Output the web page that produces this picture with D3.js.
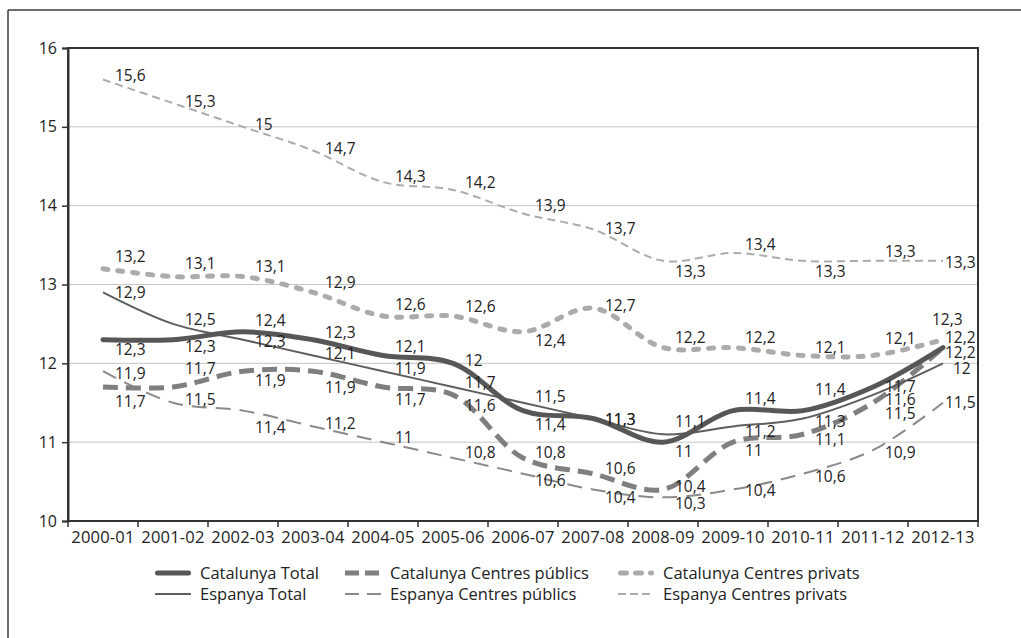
<!DOCTYPE html>
<html>
<head>
<meta charset="utf-8">
<script src="https://cdn.jsdelivr.net/npm/d3@7"></script>
<style>
  html, body { margin: 0; padding: 0; background: #fff; }
  svg { display: block; font-family: "Open Sans", "DejaVu Sans", sans-serif; }
</style>
</head>
<body>
<svg id="chart" width="1021" height="638"></svg>
<script>
// ---------- DATA ----------
const categories = ["2000-01","2001-02","2002-03","2003-04","2004-05","2005-06","2006-07","2007-08","2008-09","2009-10","2010-11","2011-12","2012-13"];
const yTicks = [10, 11, 12, 13, 14, 15, 16];

const catalunyaTotal   = [12.3, 12.3, 12.4, 12.3, 12.1, 12.0, 11.4, 11.3, 11.0, 11.4, 11.4, 11.7, 12.2];
const catalunyaPublics = [11.7, 11.7, 11.9, 11.9, 11.7, 11.6, 10.8, 10.6, 10.4, 11.0, 11.1, 11.5, 12.2];
const catalunyaPrivats = [13.2, 13.1, 13.1, 12.9, 12.6, 12.6, 12.4, 12.7, 12.2, 12.2, 12.1, 12.1, 12.3];
const espanyaTotal     = [12.9, 12.5, 12.3, 12.1, 11.9, 11.7, 11.5, 11.3, 11.1, 11.2, 11.3, 11.6, 12.0];
const espanyaPublics   = [11.9, 11.5, 11.4, 11.2, 11.0, 10.8, 10.6, 10.4, 10.3, 10.4, 10.6, 10.9, 11.5];
const espanyaPrivats   = [15.6, 15.3, 15.0, 14.7, 14.3, 14.2, 13.9, 13.7, 13.3, 13.4, 13.3, 13.3, 13.3];

const seriesNames = ["Catalunya Total","Catalunya Centres públics","Catalunya Centres privats","Espanya Total","Espanya Centres públics","Espanya Centres privats"];

// ---------- STYLES (label vertical offsets, px) ----------
const labelDy = {
  "Catalunya Total":           [10, 7, -11, -7, -9, -3, 14, 1, 9, -12, -21, 0, 5],
  "Catalunya Centres públics": [15, -18, 9, 16, 13, 11, -5, -5, -3, 8, 5, 11, -10],
  "Catalunya Centres privats": [-12, -13, -10, -10, -11, -9, 9, -3, -10, -10, -8, -17, -20],
  "Espanya Total":             [0, -4, 2, -2, -3, -4, -6, 1, -13, 5, 3, 5, 5],
  "Espanya Centres públics":   [2, -3, 17, -3, -5, -5, 7, 8, 6, 1, 3, 3, 0],
  "Espanya Centres privats":   [-4, -2, -2, -2, -5, -7, -8, -1, 11, -8, 11, -9, 2]
};
const labelDxLast = { // left-edge offset of last label
  "Catalunya Total": 2, "Catalunya Centres públics": 2, "Catalunya Centres privats": -11,
  "Espanya Total": 10, "Espanya Centres públics": 2, "Espanya Centres privats": 2
};

const styles = {
  "Catalunya Total":           { color: "#575757", width: 5,   dash: null,    cap: "round" },
  "Catalunya Centres públics": { color: "#7f7f7f", width: 5,   dash: "15,8",  cap: "butt" },
  "Catalunya Centres privats": { color: "#ababab", width: 5,   dash: "5,10",  cap: "round" },
  "Espanya Total":             { color: "#5e5e5e", width: 2,   dash: null,    cap: "butt" },
  "Espanya Centres públics":   { color: "#8a8a8a", width: 2,   dash: "15,9",  cap: "butt" },
  "Espanya Centres privats":   { color: "#ababab", width: 2,   dash: "8,5",   cap: "butt" }
};

const seriesValues = {
  "Catalunya Total": catalunyaTotal,
  "Catalunya Centres públics": catalunyaPublics,
  "Catalunya Centres privats": catalunyaPrivats,
  "Espanya Total": espanyaTotal,
  "Espanya Centres públics": espanyaPublics,
  "Espanya Centres privats": espanyaPrivats
};

// ---------- LAYOUT ----------
const svg = d3.select("#chart");
const plot = { left: 68, right: 978, top: 48, bottom: 521 };

const x = d3.scaleBand().domain(categories).range([plot.left, plot.right]).paddingInner(0).paddingOuter(0);
const xc = d => x(d) + x.bandwidth() / 2;
const y = d3.scaleLinear().domain([10, 16]).range([plot.bottom, plot.top]);

// outer frame (top + left only)
svg.append("line").attr("x1", 8).attr("x2", 1021).attr("y1", 10).attr("y2", 10)
  .attr("stroke", "#3a3a3a").attr("stroke-width", 1.5);
svg.append("line").attr("x1", 8).attr("x2", 8).attr("y1", 10).attr("y2", 638)
  .attr("stroke", "#3a3a3a").attr("stroke-width", 1.5);

// gridlines
svg.append("g").selectAll("line").data(yTicks.filter(t => t > 10 && t < 16)).join("line")
  .attr("x1", plot.left).attr("x2", plot.right)
  .attr("y1", d => y(d)).attr("y2", d => y(d))
  .attr("stroke", "#c4c4c4").attr("stroke-width", 1);

// plot border
svg.append("rect").attr("x", plot.left).attr("y", plot.top)
  .attr("width", plot.right - plot.left).attr("height", plot.bottom - plot.top)
  .attr("fill", "none").attr("stroke", "#333").attr("stroke-width", 2);

// axes
const yAxis = d3.axisLeft(y).tickValues(yTicks).tickSize(6).tickPadding(5).tickFormat(d3.format("d"));
const gy = svg.append("g").attr("transform", `translate(${plot.left},0)`).call(yAxis);
gy.select(".domain").attr("stroke", "#333").attr("stroke-width", 2);
gy.selectAll(".tick line").attr("stroke", "#333").attr("stroke-width", 1.5);
gy.selectAll(".tick text").attr("font-size", 16).attr("fill", "#222")
  .attr("font-family", "'Open Sans', sans-serif");

const xBounds = d3.range(categories.length + 1).map(i => plot.left + i * x.bandwidth());
const gx = svg.append("g");
gx.selectAll("line").data(xBounds).join("line")
  .attr("x1", d => d).attr("x2", d => d)
  .attr("y1", plot.bottom).attr("y2", plot.bottom + 6)
  .attr("stroke", "#333").attr("stroke-width", 1.5);
gx.selectAll("text").data(categories).join("text")
  .attr("x", d => xc(d)).attr("y", plot.bottom + 22)
  .attr("text-anchor", "middle").attr("font-size", 16.5).attr("letter-spacing", 0.2)
  .attr("fill", "#222").text(d => d);

// lines
const line = d3.line()
  .x((d, i) => xc(categories[i]))
  .y(d => y(d))
  .curve(d3.curveCatmullRom.alpha(0.5));

const drawOrder = ["Espanya Centres privats", "Catalunya Centres privats", "Espanya Centres públics", "Catalunya Centres públics", "Espanya Total", "Catalunya Total"];
drawOrder.forEach(name => {
  const s = styles[name];
  svg.append("path").datum(seriesValues[name])
    .attr("d", line)
    .attr("fill", "none")
    .attr("stroke", s.color)
    .attr("stroke-width", s.width)
    .attr("stroke-dasharray", s.dash)
    .attr("stroke-linecap", s.cap)
    .attr("stroke-linejoin", "round");
});

// data labels
const fmt = v => String(v).replace(".", ",");
seriesNames.forEach(name => {
  const vals = seriesValues[name];
  svg.append("g").selectAll("text").data(vals).join("text")
    .attr("x", (d, i) => xc(categories[i]) + (i === vals.length - 1 ? labelDxLast[name] : 12))
    .attr("y", (d, i) => y(d) + labelDy[name][i])
    .attr("dy", "0.35em")
    .attr("font-size", 15.5)
    .attr("fill", "#222")
    .text(d => fmt(d));
});

// legend
const legendCols = [155, 345, 618];
const legendRows = [573, 594];
const legendLayout = [
  ["Catalunya Total", 0, 0], ["Catalunya Centres públics", 1, 0], ["Catalunya Centres privats", 2, 0],
  ["Espanya Total", 0, 1], ["Espanya Centres públics", 1, 1], ["Espanya Centres privats", 2, 1]
];
const legendDash = {
  "Catalunya Total": null,
  "Catalunya Centres públics": "14,6",
  "Catalunya Centres privats": "6,9",
  "Espanya Total": null,
  "Espanya Centres públics": "14,8",
  "Espanya Centres privats": "8,4"
};
const lg = svg.append("g");
legendLayout.forEach(([name, c, r]) => {
  const s = styles[name];
  const x0 = legendCols[c], yy = legendRows[r];
  const roundCap = s.cap === "round";
  lg.append("line")
    .attr("x1", x0 + (roundCap ? 2.5 : 0)).attr("x2", x0 + 36 - (roundCap ? 2.5 : 0))
    .attr("y1", yy).attr("y2", yy)
    .attr("stroke", s.color).attr("stroke-width", s.width)
    .attr("stroke-dasharray", legendDash[name])
    .attr("stroke-linecap", s.cap);
  lg.append("text").attr("x", x0 + 45).attr("y", yy).attr("dy", "0.35em")
    .attr("font-size", 16.5).attr("fill", "#222").text(name);
});
</script>
</body>
</html>
